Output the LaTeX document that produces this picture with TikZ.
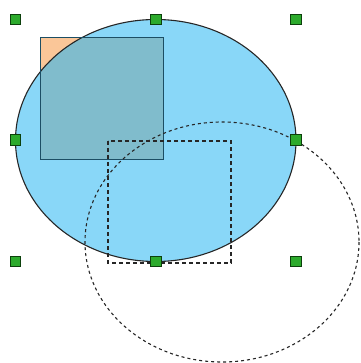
\documentclass[tikz,border=0pt]{standalone}
\usepackage{tikz}
\usetikzlibrary{calc,positioning}
\definecolor{ellblue}{RGB}{137,215,248}
\definecolor{sqorange}{RGB}{250,198,152}
\definecolor{sqteal}{RGB}{128,188,204}
\definecolor{sqedge}{RGB}{28,78,100}
\definecolor{hgreen}{RGB}{44,170,44}
\definecolor{hdark}{RGB}{12,64,12}
\tikzset{
  handle/.style={draw=hdark,line width=1pt,fill=hgreen,minimum size=10.5pt,inner sep=0pt},
  ghost/.style={black!85,line width=1.1pt,dash pattern=on 4pt off 3pt}
}

\begin{document}
\begin{tikzpicture}[x=1pt,y=-1pt]
  \useasboundingbox (0,0) rectangle (360,363);
  % square behind, ellipse on top
  \fill[sqorange] (40,38) rectangle (163,160);
  \fill[ellblue] (155.75,140.5) ellipse[x radius=140.25,y radius=121];
  \begin{scope}
    \clip (155.75,140.5) ellipse[x radius=140.25,y radius=121];
    \fill[sqteal] (40,38) rectangle (163,160);
  \end{scope}
  \draw[black!85,line width=1.1pt] (155.75,140.5) ellipse[x radius=140.25,y radius=121];
  \draw[sqedge,line width=1pt] (40,38) rectangle (163,160);
  % moved copies
  \draw[ghost] (108,141) rectangle (231,263);
  \draw[ghost,dash pattern=on 3pt off 3pt] (222,242) ellipse[x radius=137,y radius=120];
  % selection handles
  \foreach \x/\y/\n in {15.5/19.5/lt,156/19.5/mt,296/19.5/rt,
                        15.5/140/lc,296/140/rc,
                        15.5/261.5/lb,156/261.5/mb,296/261.5/rb}
    \node[handle] (h-\n) at (\x,\y) {};
\end{tikzpicture}
\end{document}
